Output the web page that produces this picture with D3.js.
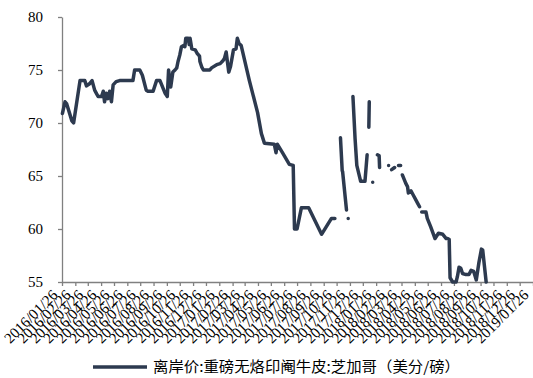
<!DOCTYPE html>
<html><head><meta charset="utf-8">
<script src="https://cdn.jsdelivr.net/npm/d3@7"></script>
<style>body{margin:0;background:#fff}svg{display:block}</style></head>
<body>
<script>
// ---- data ----
const dates = [
"2016-01-27","2016-02-02","2016-02-06","2016-02-18","2016-02-22","2016-03-08","2016-03-14","2016-03-19","2016-03-23","2016-03-30",
"2016-04-05","2016-04-11","2016-04-15","2016-04-19","2016-04-27","2016-05-01","2016-05-04","2016-05-08","2016-05-12","2016-05-16",
"2016-05-20","2016-05-24","2016-05-31","2016-06-08","2016-07-09","2016-07-13","2016-07-25","2016-07-31","2016-08-09","2016-08-13",
"2016-08-25","2016-09-02","2016-09-10","2016-09-14","2016-09-22","2016-09-27","2016-09-30","2016-10-05","2016-10-10","2016-10-15",
"2016-10-19","2016-10-22","2016-10-26","2016-10-30","2016-11-03","2016-11-07","2016-11-09","2016-11-15","2016-11-17","2016-11-19",
"2016-11-23","2016-12-01","2016-12-05","2016-12-11","2016-12-12","2016-12-16","2016-12-20","2017-01-04","2017-01-08","2017-01-20",
"2017-01-28","2017-02-04","2017-02-07","2017-02-11","2017-02-17","2017-02-21","2017-02-28","2017-03-06","2017-03-09","2017-03-13",
"2017-03-18","2017-04-06","2017-04-25","2017-05-04","2017-05-11","2017-06-03","2017-06-07","2017-06-10","2017-06-22","2017-07-08",
"2017-07-17","2017-07-20","2017-07-26","2017-08-05","2017-08-22","2017-09-21","2017-10-14","2017-10-22","2017-10-28",
"2017-11-04","2017-11-08","2017-11-09","2017-11-18","2017-11-20",
"2017-11-22","2017-11-28",
"2017-12-03","2017-12-08","2017-12-12","2017-12-21","2017-12-31","2018-01-05","2018-01-07",
"2018-01-09","2018-01-10","2018-01-14",
"2018-01-18","2018-01-24",
"2018-01-29","2018-02-02","2018-02-03","2018-02-15",
"2018-02-24","2018-02-28",
"2018-03-03","2018-03-10","2018-03-15",
"2018-03-19","2018-03-24","2018-03-26",
"2018-03-28","2018-04-05","2018-04-09","2018-04-11","2018-04-17","2018-04-21","2018-04-29","2018-05-03","2018-05-07","2018-05-09",
"2018-05-12","2018-05-22","2018-05-25","2018-06-02","2018-06-12","2018-06-20","2018-06-30","2018-07-08","2018-07-11","2018-07-15",
"2018-07-17","2018-07-23","2018-07-31","2018-08-03","2018-08-07","2018-08-11","2018-08-15","2018-08-23","2018-08-30","2018-09-04",
"2018-09-10","2018-09-16","2018-09-22","2018-09-28","2018-10-01","2018-10-09"
];
const values = [
70.9,72.0,71.8,70.2,70.0,74.0,74.0,74.0,73.5,73.7,
74.0,73.1,72.8,72.5,72.5,73.0,72.0,72.8,72.3,73.0,
72.0,73.6,73.9,74.0,74.0,75.0,75.0,74.5,73.1,73.0,
73.0,74.0,74.0,73.6,72.8,72.5,75.0,73.4,74.8,75.0,
75.2,75.8,76.4,77.2,77.3,77.2,78.0,78.0,77.4,78.0,
77.0,76.9,76.6,76.3,75.8,75.3,75.0,75.0,75.2,75.5,
75.6,75.9,76.1,76.7,74.8,75.3,76.9,77.0,78.0,77.5,
77.3,74.0,71.0,69.0,68.1,68.0,67.2,68.0,67.2,66.1,
66.0,60.0,60.0,62.0,62.0,59.5,61.0,61.0,null,
68.6,65.5,65.4,61.8,null,
61.0,null,
72.5,68.5,66.0,64.5,64.5,67.0,null,
69.6,72.0,null,
64.4,null,
67.0,66.9,65.8,null,
66.0,null,
65.6,65.8,null,
66.0,66.0,null,
65.1,64.3,64.0,63.4,63.6,63.3,62.7,62.4,62.1,null,
61.6,61.6,61.0,60.2,59.1,59.6,59.5,59.1,59.1,59.0,
55.4,55.0,55.0,55.5,56.4,56.3,55.8,55.7,55.7,56.1,
56.0,55.2,56.8,58.1,58.0,55.0
];
const xTickLabels = [
"2016/01/26","2016/02/26","2016/03/26","2016/04/26","2016/05/26","2016/06/26","2016/07/26","2016/08/26","2016/09/26","2016/10/26",
"2016/11/26","2016/12/26","2017/01/26","2017/02/26","2017/03/26","2017/04/26","2017/05/26","2017/06/26","2017/07/26","2017/08/26",
"2017/09/26","2017/10/26","2017/11/26","2017/12/26","2018/01/26","2018/02/26","2018/03/26","2018/04/26","2018/05/26","2018/06/26",
"2018/07/26","2018/08/26","2018/09/26","2018/10/26","2018/11/26","2018/12/26","2019/01/26"
];
const yTicks = [55,60,65,70,75,80];
const seriesName = "离岸价:重磅无烙印阉牛皮:芝加哥（美分/磅）";

// ---- chart ----
const W = 533, H = 378;
const lineColor = "#2d3a4f", axisColor = "#808080";
const parseD = d3.timeParse("%Y-%m-%d"), parseT = d3.timeParse("%Y/%m/%d");
const data = dates.map((d,i)=>({date:parseD(d), v:values[i]}));
const tickDates = xTickLabels.map(parseT);

const x = d3.scaleTime().domain([tickDates[0], tickDates[tickDates.length-1]]).range([62, 533]);
const y = d3.scaleLinear().domain([55, 80]).range([282, 17]);

const svg = d3.select("body").append("svg").attr("width", W).attr("height", H)
  .style("font-family", "'Liberation Serif','Times New Roman',serif");

// y axis
const gy = svg.append("g").attr("transform", "translate(62,0)")
  .call(d3.axisLeft(y).tickValues(yTicks).tickSize(4).tickSizeOuter(0).tickFormat(d3.format("d")));
gy.select(".domain").attr("stroke", axisColor).attr("stroke-width", 1.3);
gy.selectAll(".tick line").attr("stroke", axisColor).attr("stroke-width", 1.3);
gy.selectAll(".tick text").attr("fill", "#000").style("font-size", "15px")
  .style("font-family", "'Liberation Serif',serif").attr("x", -19);

// x axis
const gx = svg.append("g").attr("transform", "translate(0,282)")
  .call(d3.axisBottom(x).tickValues(tickDates).tickSize(4).tickSizeOuter(0)
    .tickFormat((d,i)=>xTickLabels[i]));
gx.select(".domain").attr("stroke", axisColor).attr("stroke-width", 1.3);
gx.selectAll(".tick line").attr("stroke", axisColor).attr("stroke-width", 1.3);
gx.selectAll(".tick text").attr("fill", "#000").style("font-size", "15px")
  .style("font-family", "'Liberation Serif',serif")
  .attr("text-anchor", "end").attr("dy", null).attr("y", 0)
  .attr("transform", "translate(-4,14) rotate(-45)");

// line
const line = d3.line().defined(d=>d.v!=null).x(d=>x(d.date)).y(d=>y(d.v));
svg.append("path").datum(data).attr("d", line)
  .attr("fill", "none").attr("stroke", lineColor).attr("stroke-width", 3.5)
  .attr("stroke-linejoin", "round").attr("stroke-linecap", "round");

// legend
const lg = svg.append("g");
lg.append("line").attr("x1", 93).attr("x2", 147).attr("y1", 367).attr("y2", 367)
  .attr("stroke", lineColor).attr("stroke-width", 3.5);
lg.append("text").attr("x", 153).attr("y", 372).text(seriesName)
  .attr("textLength", 307).attr("lengthAdjust", "spacingAndGlyphs")
  .style("font-family", "'Noto Sans CJK SC',sans-serif").style("font-size", "14.5px").attr("fill", "#000");
</script>
</body></html>
